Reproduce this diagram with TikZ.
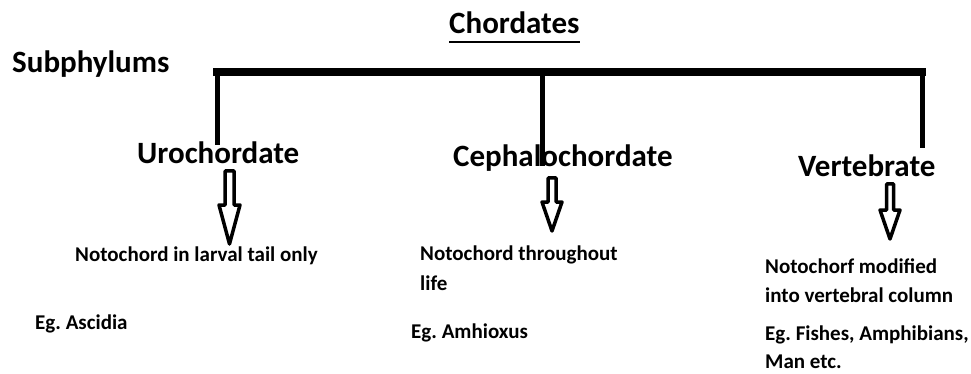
\documentclass[tikz,border=0pt]{standalone}
\usepackage{fontspec}
\setmainfont{Carlito}
\usetikzlibrary{calc}
\frenchspacing
\begin{document}
\begin{tikzpicture}[x=1pt,y=-1pt,
  head/.style={font=\bfseries\fontsize{31}{31}\selectfont, inner sep=0pt, anchor=base west},
  desc/.style={font=\bfseries\fontsize{21}{30}\selectfont, inner sep=0pt, anchor=base west},
  bar/.style={line width=8pt},
  stem/.style={line width=5pt},
  hollow/.style={draw, line width=3.5pt, fill=white, line join=round}]
\useasboundingbox (0,0) rectangle (971,374);
% titles
\node[head] (chord) at (449,34) {Chordates};
\draw[line width=2.5pt] ($(chord.base west)+(0,8)$) -- ($(chord.base east)+(0,8)$);
\node[head] (sub) at (12,73) {Subphylums};
% subphyla
\node[head] (uro) at (137,164) {Urochordate};
\node[head] (ceph) at (453,167) {Cephalochordate};
\node[head] (vert) at (798,177) {Vertebrate};
% tree
\coordinate (bl) at (213,72);
\coordinate (br) at (926,72);
\coordinate (v1) at (217,72);
\coordinate (v2) at (542,72);
\coordinate (v3) at (922.5,72);
\coordinate (e1) at (217,145);
\coordinate (e2) at (542,166);
\coordinate (e3) at (922.5,148);
\draw[bar] (bl) -- (br);
\draw[stem] (v1) -- (e1);
\draw[stem] (v2) -- (e2);
\draw[stem] (v3) -- (e3);
% arrows
\coordinate (a1) at (229.5,171);
\coordinate (a2) at (552,178);
\coordinate (a3) at (890,184);
\draw[hollow] (a1) ++(-4.5,0) -- ++(0,34) -- ++(-6,0) -- ++(10.5,39) -- ++(10.5,-39) -- ++(-6,0) -- ++(0,-34) -- cycle;
\draw[hollow] (a2) ++(-4,0) -- ++(0,24) -- ++(-6,0) -- ++(10,29) -- ++(10,-29) -- ++(-6,0) -- ++(0,-24) -- cycle;
\draw[hollow] (a3) ++(-3.5,0) -- ++(0,26) -- ++(-6.5,0) -- ++(10,29) -- ++(10,-29) -- ++(-6.5,0) -- ++(0,-26) -- cycle;
% descriptions
\node[desc] (d1) at (75,261) {Notochord in larval tail only};
\node[desc] (x1) at (35,329) {Eg. Ascidia};
\node[desc] (d2a) at (420,260) {Notochord throughout};
\node[desc] (d2b) at (420,290) {life};
\node[desc] (x2) at (411,338) {Eg. Amhioxus};
\node[desc] (d3a) at (765,273) {Notochorf modified};
\node[desc] (d3b) at (765,302) {into vertebral column};
\node[desc] (x3a) at (765,340) {Eg. Fishes, Amphibians,};
\node[desc] (x3b) at (765,368) {Man etc.};
\end{tikzpicture}
\end{document}
